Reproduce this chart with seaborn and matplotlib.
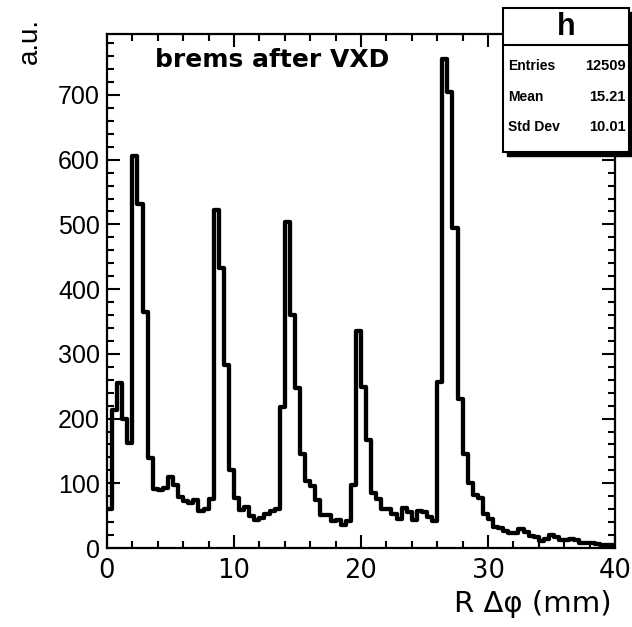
import numpy as np
import pandas as pd
import matplotlib
matplotlib.use("Agg")
import matplotlib.pyplot as plt
from matplotlib.patches import Rectangle
from matplotlib.lines import Line2D
from matplotlib.ticker import MultipleLocator
import seaborn as sns

# ---- data ----
x_min, x_max, n_bins = 0.0, 40.0, 100
counts = [
    60, 213, 255, 200, 162, 605, 532, 365, 139, 91,
    89, 92, 109, 97, 79, 72, 70, 74, 57, 60,
    76, 522, 432, 283, 120, 77, 58, 63, 50, 44,
    47, 52, 57, 60, 218, 504, 360, 247, 146, 104,
    96, 74, 51, 51, 41, 43, 36, 42, 97, 336,
    249, 167, 85, 75, 61, 60, 52, 45, 62, 55,
    44, 57, 55, 48, 42, 256, 755, 704, 494, 231,
    145, 101, 82, 78, 52, 45, 33, 31, 27, 23,
    23, 29, 25, 19, 17, 11, 14, 20, 17, 13,
    12, 14, 13, 8, 8, 7, 6, 5, 5, 4,
]
x_ticks = [0, 10, 20, 30, 40]
y_ticks = [0, 100, 200, 300, 400, 500, 600, 700]
title_text = "brems after VXD"
x_label = "R Δφ (mm)"
y_label = "a.u."
stats_name = "h"
stats_rows = [("Entries", "12509"), ("Mean", "15.21"), ("Std Dev", "10.01")]

bin_w = (x_max - x_min) / n_bins
centers = x_min + bin_w * (np.arange(n_bins) + 0.5)
df = pd.DataFrame({"x": centers, "w": counts})

# ---- style ----
sns.set_style("ticks")
plt.rcParams["font.family"] = ["Liberation Sans", "DejaVu Sans"]
for k in ["text.color", "axes.labelcolor", "xtick.color", "ytick.color",
          "axes.edgecolor"]:
    plt.rcParams[k] = "black"

W, H = 632, 627
fig = plt.figure(figsize=(W / 100, H / 100), dpi=100)

def fx(px):
    return px / W

def fy(py):
    return 1 - py / H

L, R, T, B = 107, 615, 34, 548
ax = fig.add_axes([fx(L), fy(B), fx(R) - fx(L), fy(T) - fy(B)])

sns.histplot(data=df, x="x", weights="w", binwidth=bin_w,
             binrange=(x_min, x_max), element="step",
             fill=False, color="black", linewidth=3.1, ax=ax)

ax.set_xlim(x_min, x_max)
ax.set_ylim(0, (B - T) / ((B - 95) / 700.0))
ax.set_xticks(x_ticks)
ax.set_yticks(y_ticks)
ax.xaxis.set_minor_locator(MultipleLocator(2))
ax.yaxis.set_minor_locator(MultipleLocator(20))
ax.set_xlabel("")
ax.set_ylabel("")
ax.grid(False)
for sp in ax.spines.values():
    sp.set_visible(True)
    sp.set_linewidth(1.6)
    sp.set_color("black")
ax.tick_params(which="both", direction="in", top=True, right=True,
               width=1.5, color="black")
ax.tick_params(which="major", length=9.5)
ax.tick_params(which="minor", length=5)
ax.tick_params(axis="y", which="major", labelsize=18, pad=5)
ax.tick_params(axis="x", which="major", labelsize=18.5, pad=7)
for lab in ax.get_xticklabels():
    lab.set_fontfamily("DejaVu Sans")

# text labels
fig.text(fx(155), fy(67), title_text, fontsize=18, fontweight="bold",
         family="DejaVu Sans", ha="left", va="baseline")
fig.text(fx(612), fy(604), x_label, fontsize=21, family="DejaVu Sans",
         ha="right", va="center")
fig.text(fx(30), fy(18), y_label, fontsize=20, ha="center", va="top",
         rotation=90)

# stats box
bx0, bx1, by0, by1 = 503, 629, 8, 152
shadow = Rectangle((fx(bx0 + 4), fy(by1 + 4)), fx(bx1) - fx(bx0),
                   fy(by0) - fy(by1), transform=fig.transFigure,
                   facecolor="black", edgecolor="black", zorder=10)
box = Rectangle((fx(bx0), fy(by1)), fx(bx1) - fx(bx0), fy(by0) - fy(by1),
                transform=fig.transFigure, facecolor="white",
                edgecolor="black", linewidth=1.5, zorder=11)
fig.add_artist(shadow)
fig.add_artist(box)
fig.add_artist(Line2D([fx(bx0), fx(bx1)], [fy(45), fy(45)],
                      transform=fig.transFigure, color="black",
                      linewidth=1.5, zorder=12))
fig.text(fx((bx0 + bx1) / 2), fy(27), stats_name, fontsize=22,
         fontweight="bold", ha="center", va="center", zorder=13)
row_y = [66, 97, 127]
for (k, v), yy in zip(stats_rows, row_y):
    fig.text(fx(508), fy(yy), k, fontsize=10, fontweight="bold",
             ha="left", va="center", zorder=13)
    fig.text(fx(626), fy(yy), v, fontsize=10.5, fontweight="bold",
             ha="right", va="center", zorder=13)

fig.savefig("out.png", dpi=100)
